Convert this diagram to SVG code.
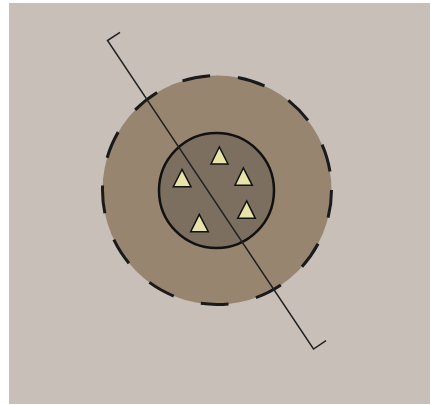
<svg xmlns="http://www.w3.org/2000/svg" width="431" height="405" viewBox="0 0 431 405">
<style>
.tri{fill:#e8e3a8;stroke:#111;stroke-width:1.5;stroke-linejoin:miter}
.sec{fill:none;stroke:#222;stroke-width:1.5}
</style>
<rect x="0" y="0" width="431" height="405" fill="#ffffff"/>
<rect x="9" y="3" width="421" height="401" fill="#c8bfb9"/>
<g id="outer">
<circle cx="217" cy="190" r="114.5" fill="#978570" stroke="#1a1a1a" stroke-width="3" stroke-dasharray="28 28"/>
</g>
<g id="inner">
<circle cx="216.5" cy="190.5" r="57.5" fill="#7c6f5f" stroke="#111" stroke-width="2.5"/>
</g>
<g id="particles">
<polygon class="tri" points="219.3,147 211,164 228,164"/>
<polygon class="tri" points="182,169.5 173.3,186.7 191,186.7"/>
<polygon class="tri" points="243.3,168 235,185.3 252.3,185.3"/>
<polygon class="tri" points="246.7,201 237.7,218.3 255.3,218.3"/>
<polygon class="tri" points="199.3,214.3 190.7,231.7 208.3,231.7"/>
</g>
<g id="connectors">
<polyline class="sec" points="120,32.3 107.5,40.5 313.5,349 326,340.7"/>
</g>
</svg>
